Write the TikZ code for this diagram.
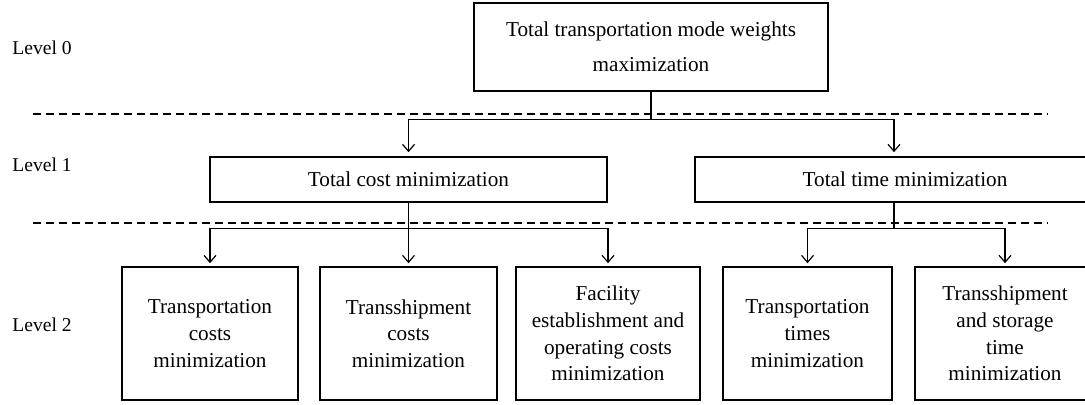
\documentclass[tikz,border=0pt]{standalone}
\usepackage{fontspec}
\setmainfont{Liberation Serif}
\usetikzlibrary{arrows.meta,calc}
\begin{document}
\begin{tikzpicture}[x=0.5pt,y=-0.5pt,
 box/.style={draw,line width=0.8pt,align=center,inner sep=0pt,font=\fontsize{10.6}{13.3}\selectfont},
 conn/.style={line width=0.6pt},
 arr/.style={conn,-{Straight Barb[length=3.5pt,width=6pt]}},
 sep/.style={dash pattern=on 4pt off 2.5pt,line width=0.6pt},
 lvl/.style={anchor=west,inner sep=0pt,font=\fontsize{9.8}{12}\selectfont}]
\path[use as bounding box] (0,0) rectangle (1085,404);
\clip (0,0) rectangle (1085,404);
% level labels
\node[lvl] (lv0) at (12,48) {Level 0};
\node[lvl] (lv1) at (12,165) {Level 1};
\node[lvl] (lv2) at (12,325) {Level 2};
% separators
\draw[sep] (33,114) -- (1048,114);
\draw[sep] (33,223) -- (1048,223);
% level 0
\node[box,minimum width=177pt,minimum height=44pt,font=\fontsize{10.6}{17.5}\selectfont] (top) at (651,47) {Total transportation mode weights\\maximization};
% level 1
\node[box,minimum width=198.5pt,minimum height=22.5pt] (l1) at (408.5,179.5) {Total cost minimization};
\node[box,minimum width=210pt,minimum height=22.5pt] (r1) at (905,179.5) {Total time minimization};
% level 2
\node[box,minimum width=88pt,minimum height=66.5pt] (b1) at (210,333.5) {Transportation\\costs\\minimization};
\node[box,minimum width=88.5pt,minimum height=66.5pt] (b2) at (408.5,333.5) {Transshipment\\costs\\minimization};
\node[box,minimum width=92pt,minimum height=66.5pt] (b3) at (608,333.5) {Facility\\establishment and\\operating costs\\minimization};
\node[box,minimum width=84.5pt,minimum height=66.5pt] (b4) at (807.5,333.5) {Transportation\\times\\minimization};
\node[box,minimum width=90pt,minimum height=66.5pt] (b5) at (1005,333.5) {Transshipment\\and storage\\time\\minimization};
% connectors level 0 -> 1
\draw[conn] (top.south) -- ++(0,28) coordinate (j0);
\draw[arr] (j0) -| ([yshift=2pt]l1.north);
\draw[arr] (j0) -| ([xshift=-5.5pt,yshift=2pt]r1.north);
% connectors level 1 -> 2
\draw[conn] (l1.south) -- ++(0,26) coordinate (j1);
\draw[arr] (j1) -| ([yshift=1.5pt]b1.north);
\draw[arr] (j1) -- ([yshift=1.5pt]b2.north);
\draw[arr] (j1) -| ([yshift=1.5pt]b3.north);
\draw[conn] ([xshift=-5.5pt]r1.south) -- ++(0,26) coordinate (j2);
\draw[arr] (j2) -| ([yshift=1.5pt]b4.north);
\draw[arr] (j2) -| ([yshift=1.5pt]b5.north);
\end{tikzpicture}
\end{document}
